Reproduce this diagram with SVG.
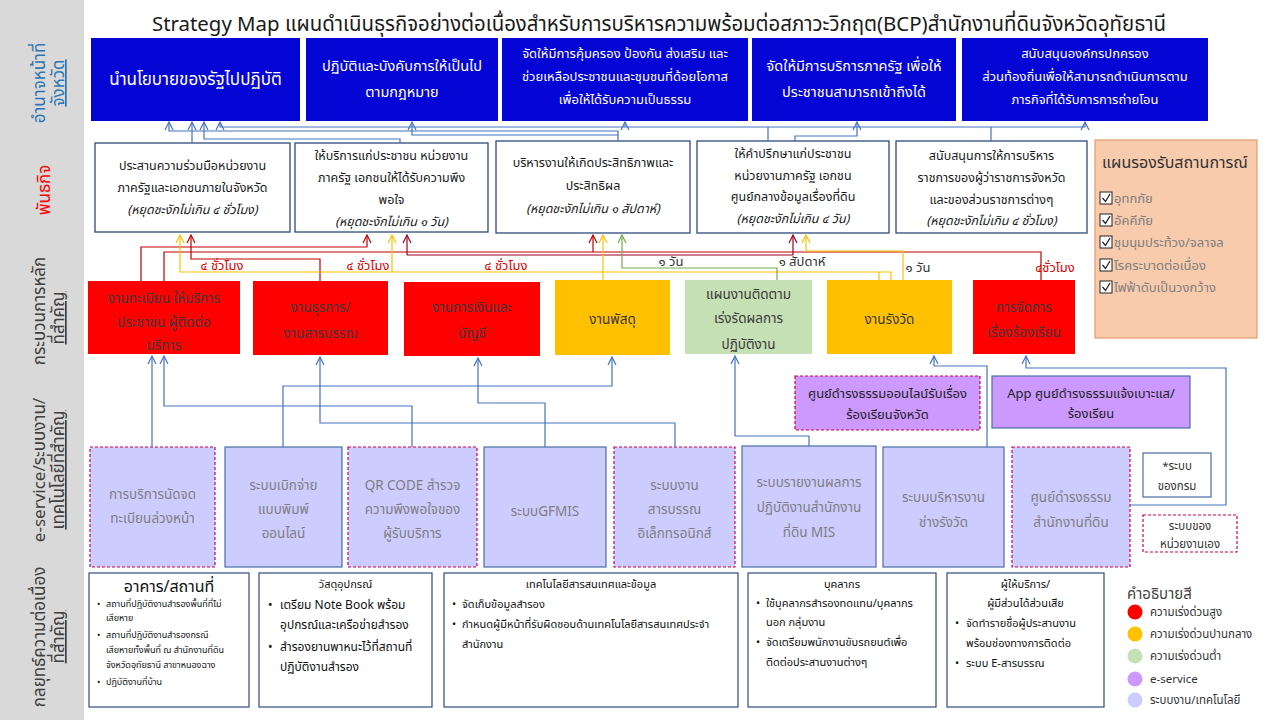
<svg xmlns="http://www.w3.org/2000/svg" width="1280" height="720" viewBox="0 0 1280 720">
<defs>
<style>
text{font-family:"Noto Sans Thai","Noto Sans","DejaVu Sans",sans-serif;}
.title{font-size:20.4px;fill:#1a1a1a;}
.side{font-size:17px;}
.u{text-decoration:underline;}
.blue rect{fill:#0505d6;}
.blue text{fill:#fff;text-anchor:middle;}
.mis rect{fill:#fff;stroke:#2f4b7c;stroke-width:1.3;}
.mis text{fill:#1a1a1a;font-size:12.5px;text-anchor:middle;}
.it{font-style:italic;}
.proc text{fill:#3a3a3a;font-size:13.5px;text-anchor:middle;}
.sys rect{fill:#ccccff;}
.sys text{fill:#7f7f7f;font-size:13.5px;text-anchor:middle;}
.solid{stroke:#4a6fa5;stroke-width:1.2;}
.dash{stroke:#d0004a;stroke-width:1.2;stroke-dasharray:3 2;}
.esv rect{fill:#cc99ff;}
.esv text{fill:#222;font-size:13px;text-anchor:middle;}
.str rect{fill:#fff;stroke:#2f4b7c;stroke-width:1.2;}
.str text{fill:#111;}
.hd{text-anchor:middle;font-size:11px;}
.b{font-size:11px;}
.s9{font-size:9px;}
.cb{fill:#fff;stroke:#222;stroke-width:1;}
.ck{fill:none;stroke:#222;stroke-width:1.3;}
.lg{font-size:11.5px;fill:#333;}
.cbl path{fill:none;stroke:#4472c4;stroke-width:1.2;marker-end:url(#ab);}
.cbl path.n{marker-end:none;}
.cr{fill:none;stroke:#c00000;stroke-width:1.2;}
.cdr{fill:none;stroke:#a00020;stroke-width:1.2;}
.cy{fill:none;stroke:#ffc000;stroke-width:1.2;}
.cg{fill:none;stroke:#70ad47;stroke-width:1.2;}
.lbr{fill:#e00000;font-size:13px;text-anchor:middle;}
.lbk{fill:#333;font-size:13px;text-anchor:middle;}
</style>
<marker id="ab" viewBox="-10 -6 12 12" refX="0" refY="0" markerWidth="12" markerHeight="12" markerUnits="userSpaceOnUse" orient="auto"><path d="M-8,-4 L0,0 L-8,4" fill="none" stroke="#4472c4" stroke-width="1.2"/></marker>
<marker id="ar" viewBox="-10 -6 12 12" refX="0" refY="0" markerWidth="12" markerHeight="12" markerUnits="userSpaceOnUse" orient="auto"><path d="M-8,-4 L0,0 L-8,4" fill="none" stroke="#c00000" stroke-width="1.2"/></marker>
<marker id="adr" viewBox="-10 -6 12 12" refX="0" refY="0" markerWidth="12" markerHeight="12" markerUnits="userSpaceOnUse" orient="auto"><path d="M-8,-4 L0,0 L-8,4" fill="none" stroke="#a00020" stroke-width="1.2"/></marker>
<marker id="ay" viewBox="-10 -6 12 12" refX="0" refY="0" markerWidth="12" markerHeight="12" markerUnits="userSpaceOnUse" orient="auto"><path d="M-8,-4 L0,0 L-8,4" fill="none" stroke="#ffc000" stroke-width="1.2"/></marker>
<marker id="ag" viewBox="-10 -6 12 12" refX="0" refY="0" markerWidth="12" markerHeight="12" markerUnits="userSpaceOnUse" orient="auto"><path d="M-8,-4 L0,0 L-8,4" fill="none" stroke="#70ad47" stroke-width="1.2"/></marker>
</defs>
<rect width="1280" height="720" fill="#fff"/>
<rect x="0" y="0" width="84" height="720" fill="#d9d9d9"/>

<g id="side-labels" class="side">
<text transform="translate(45,83) rotate(-90)" text-anchor="middle" fill="#2e75b6">อำนาจหน้าที่</text>
<text class="u" transform="translate(64,83) rotate(-90)" text-anchor="middle" fill="#2e75b6">จังหวัด</text>
<text transform="translate(50,190) rotate(-90)" text-anchor="middle" fill="#ff0000">พันธกิจ</text>
<text transform="translate(45,311) rotate(-90)" text-anchor="middle" fill="#404040">กระบวนการหลัก</text>
<text class="u" transform="translate(64,318) rotate(-90)" text-anchor="middle" fill="#404040">ที่สำคัญ</text>
<text transform="translate(45,470) rotate(-90)" text-anchor="middle" fill="#404040">e-service/ระบบงาน/</text>
<text class="u" transform="translate(64,470) rotate(-90)" text-anchor="middle" fill="#404040">เทคโนโลยีที่สำคัญ</text>
<text transform="translate(45,637) rotate(-90)" text-anchor="middle" fill="#404040">กลยุทธ์ความต่อเนื่อง</text>
<text class="u" transform="translate(64,637) rotate(-90)" text-anchor="middle" fill="#404040">ที่สำคัญ</text>
</g>

<text id="title" class="title" x="659" y="31" text-anchor="middle">Strategy Map แผนดำเนินธุรกิจอย่างต่อเนื่องสำหรับการบริหารความพร้อมต่อสภาวะวิกฤต(BCP)สำนักงานที่ดินจังหวัดอุทัยธานี</text>

<!-- Row 1 -->
<g id="auth1" class="blue"><rect x="91" y="38" width="209" height="83"/><text x="195.5" y="85" font-size="17">นำนโยบายของรัฐไปปฏิบัติ</text></g>
<g id="auth2" class="blue"><rect x="306" y="38" width="192" height="83"/><text x="402" y="71" font-size="14.5">ปฏิบัติและบังคับการให้เป็นไป</text><text x="402" y="97" font-size="14.5">ตามกฎหมาย</text></g>
<g id="auth3" class="blue"><rect x="502" y="38" width="246" height="83"/><text x="625" y="58" font-size="13">จัดให้มีการคุ้มครอง ป้องกัน ส่งเสริม และ</text><text x="625" y="81" font-size="13">ช่วยเหลือประชาชนและชุมชนที่ด้อยโอกาส</text><text x="625" y="104" font-size="13">เพื่อให้ได้รับความเป็นธรรม</text></g>
<g id="auth4" class="blue"><rect x="752" y="38" width="204" height="83"/><text x="854" y="71" font-size="14.5">จัดให้มีการบริการภาครัฐ เพื่อให้</text><text x="854" y="97" font-size="14.5">ประชาชนสามารถเข้าถึงได้</text></g>
<g id="auth5" class="blue"><rect x="962" y="38" width="246" height="83"/><text x="1085" y="58" font-size="13">สนับสนุนองค์กรปกครอง</text><text x="1085" y="81" font-size="13">ส่วนท้องถิ่นเพื่อให้สามารถดำเนินการตาม</text><text x="1085" y="104" font-size="13">ภารกิจที่ได้รับการการถ่ายโอน</text></g>

<!-- Row 2 -->
<g id="mis1" class="mis"><rect x="95" y="143" width="195" height="89"/><text x="192.5" y="170">ประสานความร่วมมือหน่วยงาน</text><text x="192.5" y="192">ภาครัฐและเอกชนภายในจังหวัด</text><text class="it" x="192.5" y="214">(หยุดชะงักไม่เกิน ๔ ชั่วโมง)</text></g>
<g id="mis2" class="mis"><rect x="295" y="143" width="193" height="89"/><text x="391.5" y="160">ให้บริการแก่ประชาชน หน่วยงาน</text><text x="391.5" y="182">ภาครัฐ เอกชนให้ได้รับความพึง</text><text x="391.5" y="204">พอใจ</text><text class="it" x="391.5" y="226">(หยุดชะงักไม่เกิน ๑ วัน)</text></g>
<g id="mis3" class="mis"><rect x="496" y="141" width="194" height="92"/><text x="593" y="167">บริหารงานให้เกิดประสิทธิภาพและ</text><text x="593" y="190">ประสิทธิผล</text><text class="it" x="593" y="213">(หยุดชะงักไม่เกิน ๑ สัปดาห์)</text></g>
<g id="mis4" class="mis"><rect x="697" y="141" width="192" height="92"/><text x="793" y="158">ให้คำปรึกษาแก่ประชาชน</text><text x="793" y="180">หน่วยงานภาครัฐ เอกชน</text><text x="793" y="201">ศูนย์กลางข้อมูลเรื่องที่ดิน</text><text class="it" x="793" y="223">(หยุดชะงักไม่เกิน ๔ วัน)</text></g>
<g id="mis5" class="mis"><rect x="896" y="141" width="191" height="92"/><text x="991.5" y="160">สนับสนุนการให้การบริหาร</text><text x="991.5" y="182">ราชการของผู้ว่าราชการจังหวัด</text><text x="991.5" y="204">และของส่วนราชการต่างๆ</text><text class="it" x="991.5" y="225">(หยุดชะงักไม่เกิน ๔ ชั่วโมง)</text></g>

<!-- Plan panel -->
<g id="plan">
<rect x="1095" y="140" width="162" height="198" fill="#f8cbad" stroke="#e59b6b" stroke-width="1.2"/>
<text x="1102" y="168" font-size="16" fill="#333">แผนรองรับสถานการณ์</text>
<rect class="cb" x="1100" y="192" width="12" height="12"/><path class="ck" d="M1102.5,198 L1105.5,201.5 L1110,194"/>
<text x="1114" y="203" font-size="13" fill="#7f7f7f">อุทกภัย</text>
<rect class="cb" x="1100" y="214" width="12" height="12"/><path class="ck" d="M1102.5,220 L1105.5,223.5 L1110,216"/>
<text x="1114" y="225" font-size="13" fill="#7f7f7f">อัคคีภัย</text>
<rect class="cb" x="1100" y="236" width="12" height="12"/><path class="ck" d="M1102.5,242 L1105.5,245.5 L1110,238"/>
<text x="1114" y="247" font-size="13" fill="#7f7f7f">ชุมนุมประท้วง/จลาจล</text>
<rect class="cb" x="1100" y="259" width="12" height="12"/><path class="ck" d="M1102.5,265 L1105.5,268.5 L1110,261"/>
<text x="1114" y="270" font-size="13" fill="#7f7f7f">โรคระบาดต่อเนื่อง</text>
<rect class="cb" x="1100" y="281" width="12" height="12"/><path class="ck" d="M1102.5,287 L1105.5,290.5 L1110,283"/>
<text x="1114" y="292" font-size="13" fill="#7f7f7f">ไฟฟ้าดับเป็นวงกว้าง</text>
</g>

<!-- Row 3 -->
<g id="proc1" class="proc"><rect x="88" y="281" width="152" height="73" fill="#ff0000"/><text x="164" y="303">งานทะเบียน ให้บริการ</text><text x="164" y="327">ประชาชน ผู้ติดต่อ</text><text x="164" y="350">บริการ</text></g>
<g id="proc2" class="proc"><rect x="253" y="281" width="135" height="74" fill="#ff0000"/><text x="320.5" y="312">งานธุรการ/</text><text x="320.5" y="338">งานสารบรรณ</text></g>
<g id="proc3" class="proc"><rect x="404" y="282" width="136" height="74" fill="#ff0000"/><text x="472" y="312">งานการเงินและ</text><text x="472" y="338">บัญชี</text></g>
<g id="proc4" class="proc"><rect x="555" y="280" width="115" height="75" fill="#ffc000"/><text x="612.5" y="324">งานพัสดุ</text></g>
<g id="proc5" class="proc"><rect x="685" y="280" width="127" height="74" fill="#c5e0b4"/><text x="748.5" y="299">แผนงานติดตาม</text><text x="748.5" y="323">เร่งรัดผลการ</text><text x="748.5" y="349">ปฏิบัติงาน</text></g>
<g id="proc6" class="proc"><rect x="827" y="280" width="125" height="74" fill="#ffc000"/><text x="889.5" y="324">งานรังวัด</text></g>
<g id="proc7" class="proc"><rect x="973" y="280" width="102" height="74" fill="#ff0000"/><text x="1024" y="312">การจัดการ</text><text x="1024" y="337">เรื่องร้องเรียน</text></g>

<!-- Row 4 e-service -->
<g id="esv1" class="esv"><rect class="dash" x="795" y="376" width="185" height="54"/><text x="887.5" y="398">ศูนย์ดำรงธรรมออนไลน์รับเรื่อง</text><text x="887.5" y="419">ร้องเรียนจังหวัด</text></g>
<g id="esv2" class="esv"><rect class="solid" x="992" y="376" width="198" height="52"/><text x="1091" y="398">App ศูนย์ดำรงธรรมแจ้งเบาะแส/</text><text x="1091" y="418">ร้องเรียน</text></g>

<!-- Row 4 systems -->
<g id="sys1" class="sys"><rect class="dash" x="90" y="447" width="125" height="120"/><text x="152.5" y="499">การบริการนัดจด</text><text x="152.5" y="523">ทะเบียนล่วงหน้า</text></g>
<g id="sys2" class="sys"><rect class="solid" x="225" y="447" width="117" height="120"/><text x="283.5" y="490">ระบบเบิกจ่าย</text><text x="283.5" y="514">แบบพิมพ์</text><text x="283.5" y="538">ออนไลน์</text></g>
<g id="sys3" class="sys"><rect class="dash" x="348" y="447" width="129" height="120"/><text x="412.5" y="490">QR CODE สำรวจ</text><text x="412.5" y="514">ความพึงพอใจของ</text><text x="412.5" y="538">ผู้รับบริการ</text></g>
<g id="sys4" class="sys"><rect class="solid" x="484" y="447" width="122" height="120"/><text x="545" y="516">ระบบGFMIS</text></g>
<g id="sys5" class="sys"><rect class="dash" x="614" y="447" width="121" height="120"/><text x="674.5" y="490">ระบบงาน</text><text x="674.5" y="514">สารบรรณ</text><text x="674.5" y="538">อิเล็กทรอนิกส์</text></g>
<g id="sys6" class="sys"><rect class="solid" x="742" y="446" width="134" height="121"/><text x="809" y="487">ระบบรายงานผลการ</text><text x="809" y="512">ปฏิบัติงานสำนักงาน</text><text x="809" y="537">ที่ดิน MIS</text></g>
<g id="sys7" class="sys"><rect class="solid" x="883" y="447" width="121" height="120"/><text x="943.5" y="502">ระบบบริหารงาน</text><text x="943.5" y="527">ช่างรังวัด</text></g>
<g id="sys8" class="sys"><rect class="dash" x="1012" y="447" width="118" height="120"/><text x="1071" y="502">ศูนย์ดำรงธรรม</text><text x="1071" y="527">สำนักงานที่ดิน</text></g>

<g id="key-dept"><rect class="solid" x="1143" y="453" width="68" height="44" fill="#fff"/><text x="1177" y="470" class="lg" text-anchor="middle">*ระบบ</text><text x="1177" y="490" class="lg" text-anchor="middle">ของกรม</text></g>
<g id="key-own"><rect class="dash" x="1143" y="515" width="94" height="37" fill="#fff"/><text x="1190" y="530" class="lg" text-anchor="middle">ระบบของ</text><text x="1190" y="548" class="lg" text-anchor="middle">หน่วยงานเอง</text></g>

<!-- Row 5 -->
<g id="str1" class="str"><rect x="89" y="573" width="160" height="134"/>
<text x="169" y="592" text-anchor="middle" font-size="16">อาคาร/สถานที่</text>
<text x="97" y="607" class="s9">•</text><text x="106" y="607" class="s9">สถานที่ปฏิบัติงานสำรองพื้นที่ที่ไม่</text>
<text x="106" y="621" class="s9">เสียหาย</text>
<text x="97" y="638" class="s9">•</text><text x="106" y="638" class="s9">สถานที่ปฏิบัติงานสำรองกรณี</text>
<text x="106" y="653" class="s9">เสียหายทั้งพื้นที่ ณ สำนักงานที่ดิน</text>
<text x="106" y="668" class="s9">จังหวัดอุทัยธานี สาขาหนองฉาง</text>
<text x="97" y="685" class="s9">•</text><text x="106" y="685" class="s9">ปฏิบัติงานที่บ้าน</text>
</g>
<g id="str2" class="str"><rect x="259" y="573" width="173" height="134"/>
<text x="345.5" y="588" class="hd">วัสดุอุปกรณ์</text>
<text x="268" y="609" font-size="12">•</text><text x="280" y="609" font-size="12">เตรียม Note Book พร้อม</text>
<text x="280" y="629" font-size="12">อุปกรณ์และเครือข่ายสำรอง</text>
<text x="268" y="651" font-size="12">•</text><text x="280" y="651" font-size="12">สำรองยานพาหนะไว้ที่สถานที่</text>
<text x="280" y="671" font-size="12">ปฏิบัติงานสำรอง</text>
</g>
<g id="str3" class="str"><rect x="444" y="573" width="294" height="134"/>
<text x="591" y="588" class="hd">เทคโนโลยีสารสนเทศและข้อมูล</text>
<text x="452" y="608" class="b">•</text><text x="462" y="608" class="b">จัดเก็บข้อมูลสำรอง</text>
<text x="452" y="628" class="b">•</text><text x="462" y="628" class="b">กำหนดผู้มีหน้าที่รับผิดชอบด้านเทคโนโลยีสารสนเทศประจำ</text>
<text x="462" y="648" class="b">สำนักงาน</text>
</g>
<g id="str4" class="str"><rect x="748" y="573" width="188" height="134"/>
<text x="842" y="588" class="hd">บุคลากร</text>
<text x="756" y="607" class="b">•</text><text x="766" y="607" class="b">ใช้บุคลากรสำรองทดแทน/บุคลากร</text>
<text x="766" y="626" class="b">นอก กลุ่มงาน</text>
<text x="756" y="646" class="b">•</text><text x="766" y="646" class="b">จัดเตรียมพนักงานขับรถยนต์เพื่อ</text>
<text x="766" y="666" class="b">ติดต่อประสานงานต่างๆ</text>
</g>
<g id="str5" class="str"><rect x="947" y="573" width="157" height="134"/>
<text x="1025.5" y="588" class="hd">ผู้ให้บริการ/</text>
<text x="1025.5" y="607" class="hd">ผู้มีส่วนได้ส่วนเสีย</text>
<text x="955" y="627" class="b">•</text><text x="966" y="627" class="b">จัดทำรายชื่อผู้ประสานงาน</text>
<text x="966" y="647" class="b">พร้อมช่องทางการติดต่อ</text>
<text x="955" y="667" class="b">•</text><text x="966" y="667" class="b">ระบบ E-สารบรรณ</text>
</g>

<g id="legend">
<text x="1127" y="599" font-size="15" fill="#444">คำอธิบายสี</text>
<circle cx="1135" cy="612" r="7.5" fill="#ff0000"/><text x="1150" y="616" class="lg">ความเร่งด่วนสูง</text>
<circle cx="1135" cy="634" r="7.5" fill="#ffc000"/><text x="1150" y="638" class="lg">ความเร่งด่วนปานกลาง</text>
<circle cx="1135" cy="656" r="7.5" fill="#c5e0b4"/><text x="1150" y="660" class="lg">ความเร่งด่วนต่ำ</text>
<circle cx="1135" cy="679" r="7.5" fill="#cc99ff"/><text x="1150" y="683" class="lg">e-service</text>
<circle cx="1135" cy="700" r="7.5" fill="#ccccff"/><text x="1150" y="704" class="lg">ระบบงาน/เทคโนโลยี</text>
</g>

<!-- Connectors -->
<g id="connectors">
<g class="cbl">
<path d="M192,143 V122"/>
<path d="M400,143 V139 H204 V122"/>
<path d="M618,141 V131 H169 V122"/>
<path d="M618,135 H412 V122"/>
<path d="M768,141 V127 H220 V122"/>
<path d="M768,127 H1085 V122"/>
<path class="n" d="M991,141 V127"/>
<path d="M625,127 V122"/>
<path d="M795,141 V136 H857 V122"/>
<path d="M152,447 V356"/>
<path d="M412,447 V406 H164 V356"/>
<path d="M675,447 V423 H320 V357"/>
<path d="M283,447 V386 H612 V357"/>
<path d="M545,447 V403 H478 V358"/>
<path d="M809,446 V436 H735 V356"/>
<path d="M987,447 V366 H934 V356"/>
<path d="M1130,505 H1226 V368 H1026 V356"/>
</g>
<path class="cr" d="M141,281 V247 H367 V235" marker-end="url(#ar)"/>
<path class="cr" d="M164,281 V252 H1041 V280"/>
<path class="cr" d="M593,252 V235" marker-end="url(#ar)"/>
<path class="cdr" d="M407,255 H793"/>
<path class="cdr" d="M407,255 V235" marker-end="url(#adr)"/>
<path class="cdr" d="M793,255 V235" marker-end="url(#adr)"/>
<path class="cr" d="M320,281 V259 H191 V235" marker-end="url(#ar)"/>
<path class="cy" d="M879,280 V272 H180 V235" marker-end="url(#ay)"/>
<path class="cy" d="M392,272 V235" marker-end="url(#ay)"/>
<path class="cy" d="M891,280 V272 H879"/>
<path class="cy" d="M603,280 V235" marker-end="url(#ay)"/>
<path class="cy" d="M903,280 V251 H806 V235" marker-end="url(#ay)"/>
<path class="cg" d="M777,280 V268 H622 V235" marker-end="url(#ag)"/>
</g>

<g id="conn-labels">
<text class="lbr" x="222" y="270">๔ ชั่วโมง</text>
<text class="lbr" x="368" y="270">๔ ชั่วโมง</text>
<text class="lbr" x="506" y="270">๔ ชั่วโมง</text>
<text class="lbk" x="671" y="266">๑ วัน</text>
<text class="lbk" x="802" y="266">๑ สัปดาห์</text>
<text class="lbk" x="918" y="272">๑ วัน</text>
<text class="lbr" x="1055" y="272">๔ชั่วโมง</text>
</g>
</svg>
